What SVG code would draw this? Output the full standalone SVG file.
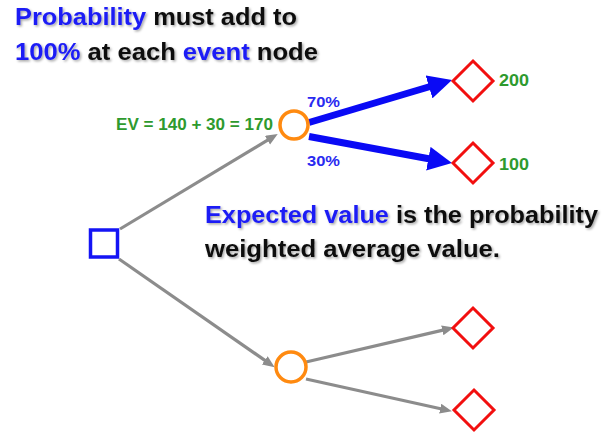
<svg xmlns="http://www.w3.org/2000/svg" width="603" height="434" viewBox="0 0 603 434">
<style>
  text { font-family: "Liberation Sans", Arial, sans-serif; font-weight: bold; }
  .big { font-size: 23px; fill: #111; filter: url(#sh); }
  .blue { fill: #1c1cf5; }
  .green { fill: #2e9a2e; font-size: 16px; }
  .pct { fill: #2a2af0; font-size: 15px; }
  .dec { fill: none; stroke: #1414f5; stroke-width: 3.5; }
  .chance { fill: none; stroke: #ff8a10; stroke-width: 3.5; }
  .end { fill: none; stroke: #f20f0f; stroke-width: 3; stroke-linejoin: miter; }
  .gline { fill: none; stroke: #8c8c8c; stroke-width: 3.2; marker-end: url(#ag); }
  .bline { fill: none; stroke: #0a0af5; stroke-width: 7; marker-end: url(#ab); }
</style>
<defs>
  <filter id="sh" x="-5%" y="-20%" width="110%" height="150%">
    <feDropShadow dx="1.5" dy="1.5" stdDeviation="0.8" flood-color="#000" flood-opacity="0.35"/>
  </filter>
  <marker id="ab" markerUnits="userSpaceOnUse" markerWidth="26" markerHeight="24" refX="10" refY="12" orient="auto">
    <path d="M0,0 L24,12 L0,24 z" fill="#0a0af5"/>
  </marker>
  <marker id="ag" markerUnits="userSpaceOnUse" markerWidth="13" markerHeight="11" refX="4" refY="5" orient="auto">
    <path d="M0,0 L12,5 L0,10 z" fill="#8c8c8c"/>
  </marker>
</defs>

<g id="connectors">
  <line class="gline" x1="120" y1="229" x2="270.9" y2="138.1"/>
  <line class="gline" x1="119" y1="259" x2="268.1" y2="362.6"/>
  <line class="bline" x1="309" y1="122.5" x2="438.6" y2="84"/>
  <line class="bline" x1="309" y1="136.5" x2="438.2" y2="160.5"/>
  <line class="gline" x1="306" y1="362" x2="446.2" y2="329.4"/>
  <line class="gline" x1="306" y1="379" x2="444.1" y2="409.5"/>
</g>

<g id="title">
  <text class="big" x="15" y="25" textLength="282" lengthAdjust="spacingAndGlyphs"><tspan class="blue">Probability</tspan> must add to</text>
  <text class="big" x="15" y="60" textLength="303" lengthAdjust="spacingAndGlyphs"><tspan class="blue">100%</tspan> at each <tspan class="blue">event</tspan> node</text>
</g>

<g id="note">
  <text class="big" x="205" y="223" textLength="393" lengthAdjust="spacingAndGlyphs"><tspan class="blue">Expected value</tspan> is the probability</text>
  <text class="big" x="205" y="257" textLength="295" lengthAdjust="spacingAndGlyphs">weighted average value.</text>
</g>

<g id="decision">
  <rect class="dec" x="90.5" y="230" width="27" height="27"/>
</g>

<g id="chance-top">
  <circle class="chance" cx="294" cy="125" r="14"/>
  <text class="green" x="116" y="130" textLength="157" lengthAdjust="spacingAndGlyphs">EV = 140 + 30 = 170</text>
  <text class="pct" x="307" y="107" textLength="33" lengthAdjust="spacingAndGlyphs">70%</text>
  <text class="pct" x="307" y="166" textLength="33" lengthAdjust="spacingAndGlyphs">30%</text>
</g>

<g id="chance-bottom">
  <circle class="chance" cx="291" cy="367" r="15"/>
</g>

<g id="end-200">
  <polygon class="end" points="473,61 493,81 473,101 453,81"/>
  <text class="green" x="499" y="86" textLength="30" lengthAdjust="spacingAndGlyphs">200</text>
</g>
<g id="end-100">
  <polygon class="end" points="473,143 493,163 473,183 453,163"/>
  <text class="green" x="499" y="170" textLength="30" lengthAdjust="spacingAndGlyphs">100</text>
</g>
<g id="end-3">
  <polygon class="end" points="473,308 493,328 473,348 453,328"/>
</g>
<g id="end-4">
  <polygon class="end" points="474,390 494,410 474,430 454,410"/>
</g>
</svg>
